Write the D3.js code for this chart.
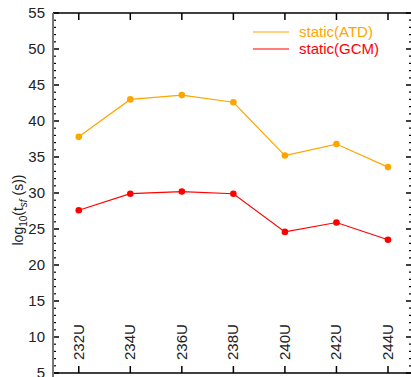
<!DOCTYPE html>
<html><head><meta charset="utf-8">
<script src="https://cdn.jsdelivr.net/npm/d3@7"></script>
<style>body{margin:0;background:#fff;} svg{display:block;font-family:"Liberation Sans",Arial,sans-serif;}</style>
</head><body>
<svg id="c" width="411" height="377"></svg>
<script>
const categories = ["232U","234U","236U","238U","240U","242U","244U"];
const massNumbers = [232,234,236,238,240,242,244];
const atdValues = [37.8,43.0,43.6,42.6,35.2,36.8,33.6];
const gcmValues = [27.6,29.9,30.2,29.9,24.6,25.9,23.5];
const yTicks = [5,10,15,20,25,30,35,40,45,50,55];
const seriesNames = ["static(ATD)","static(GCM)"];
const seriesColors = ["#FFA500","#FF0000"];

const svg = d3.select("#c");
const x = d3.scaleLinear().domain([231,245]).range([53,413.75]);
const y = d3.scaleLinear().domain([5,55]).range([373,13]);

// minor ticks
const minor = d3.range(5,56,1).filter(v=>v%5!==0);
const g = svg.append("g");
// left axis
g.selectAll(".lmaj").data(yTicks).enter().append("line")
 .attr("x1",53).attr("x2",59).attr("y1",d=>y(d)).attr("y2",d=>y(d)).attr("stroke","#000").attr("stroke-width",1.5);
g.selectAll(".lmin").data(minor).enter().append("line")
 .attr("x1",53).attr("x2",56).attr("y1",d=>y(d)).attr("y2",d=>y(d)).attr("stroke","#000").attr("stroke-width",1.2);
// right axis
g.selectAll(".rmaj").data(yTicks).enter().append("line")
 .attr("x1",413.75).attr("x2",406).attr("y1",d=>y(d)).attr("y2",d=>y(d)).attr("stroke","#000").attr("stroke-width",1.5);
g.selectAll(".rmin").data(minor).enter().append("line")
 .attr("x1",413.75).attr("x2",409).attr("y1",d=>y(d)).attr("y2",d=>y(d)).attr("stroke","#000").attr("stroke-width",1.2);
// top / bottom ticks
g.selectAll(".tt").data(massNumbers).enter().append("line")
 .attr("x1",d=>x(d)).attr("x2",d=>x(d)).attr("y1",13).attr("y2",20).attr("stroke","#000").attr("stroke-width",1.5);
g.selectAll(".bt").data(massNumbers).enter().append("line")
 .attr("x1",d=>x(d)).attr("x2",d=>x(d)).attr("y1",373).attr("y2",366).attr("stroke","#000").attr("stroke-width",1.5);
// frame
g.append("line").attr("x1",53).attr("x2",413).attr("y1",13).attr("y2",13).attr("stroke","#000").attr("stroke-width",1.5);
g.append("line").attr("x1",53).attr("x2",413).attr("y1",373).attr("y2",373).attr("stroke","#000").attr("stroke-width",1.5);
g.append("line").attr("x1",53).attr("x2",53).attr("y1",13).attr("y2",377).attr("stroke","#777").attr("stroke-width",2);

// y tick labels
svg.selectAll(".yl").data(yTicks).enter().append("text")
 .attr("x",45).attr("y",d=>y(d)).attr("dy","0.36em").attr("text-anchor","end")
 .attr("font-size",15).attr("fill","#222").text(d=>d);
// x tick labels
svg.selectAll(".xl").data(categories).enter().append("text")
 .attr("transform",(d,i)=>`translate(${x(massNumbers[i])+5},360) rotate(-90)`)
 .attr("text-anchor","start").attr("font-size",15).attr("fill","#222").text(d=>d);

// y axis title
const yt = svg.append("text").attr("transform","translate(23,210) rotate(-90)")
 .attr("text-anchor","middle").attr("font-size",14).attr("fill","#222");
yt.append("tspan").text("log");
yt.append("tspan").attr("font-size",10).attr("dy",4).text("10");
yt.append("tspan").attr("dy",-4).text("(t");
yt.append("tspan").attr("font-size",10).attr("dy",4).attr("font-style","italic").text("sf");
yt.append("tspan").attr("dy",-4).text(" (s))");

// series
const series = [atdValues, gcmValues];
const line = d3.line().x((d,i)=>x(massNumbers[i])).y(d=>y(d));
series.forEach((vals,k)=>{
  svg.append("path").datum(vals).attr("d",line).attr("fill","none")
   .attr("stroke",seriesColors[k]).attr("stroke-width",1.2);
  svg.selectAll(".p"+k).data(vals).enter().append("circle")
   .attr("cx",(d,i)=>x(massNumbers[i])).attr("cy",d=>y(d)).attr("r",3.3)
   .attr("fill",seriesColors[k]);
});

// legend
seriesNames.forEach((n,k)=>{
  const ly = 32 + k*17;
  svg.append("line").attr("x1",253).attr("x2",289).attr("y1",ly).attr("y2",ly)
   .attr("stroke",seriesColors[k]).attr("stroke-width",1.2);
  svg.append("text").attr("x",299).attr("y",ly).attr("dy","0.36em")
   .attr("font-size",15).attr("fill",seriesColors[k]).text(n);
});
</script>
</body></html>
